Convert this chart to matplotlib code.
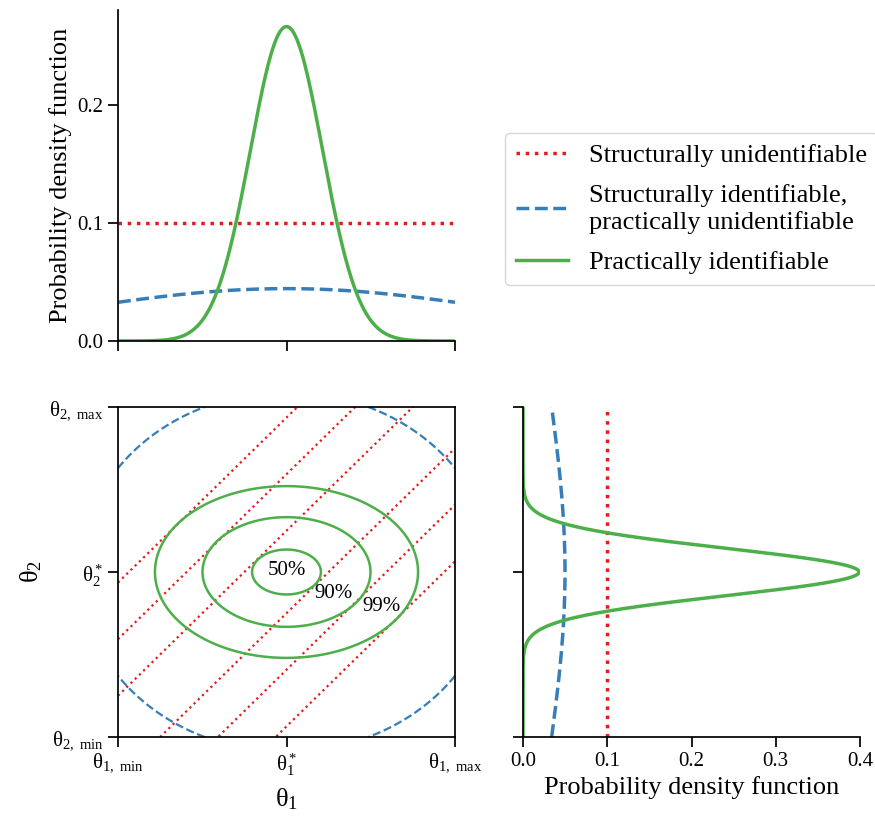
import numpy as np
import matplotlib
matplotlib.use("Agg")
import matplotlib.pyplot as plt

plt.rcParams["font.family"] = ["Liberation Serif", "DejaVu Serif"]
plt.rcParams["mathtext.fontset"] = "custom"
plt.rcParams["mathtext.rm"] = "Liberation Serif"
plt.rcParams["mathtext.it"] = "Liberation Serif"
plt.rcParams["mathtext.default"] = "regular"
plt.rcParams["axes.linewidth"] = 1.25
plt.rcParams["xtick.major.size"] = 7
plt.rcParams["ytick.major.size"] = 7
plt.rcParams["xtick.major.width"] = 1.25
plt.rcParams["ytick.major.width"] = 1.25
plt.rcParams["xtick.labelsize"] = 15
plt.rcParams["ytick.labelsize"] = 15

RED = "#e41a1c"
BLUE = "#377eb8"
GREEN = "#4daf4a"

# parameter space and the three cases
THETA_LIM = [-7.0, 7.0]
THETA_TICKS = [-7.0, 0.0, 7.0]
GREEN_SD = [1.5, 1.0]          # practically identifiable (theta1, theta2)
BLUE_SD = [9.0, 8.0]           # structurally identifiable, practically not
RED_DENSITY = 0.1              # structurally unidentifiable (flat)
RED_OFFSETS = [-6.55, -4.15, -1.75, 1.75, 4.15, 6.55]   # theta2 - theta1 = c
GREEN_LEVELS = [0.953, 2.326, 3.643]                     # Mahalanobis radii
GREEN_LABELS = ["50%", "90%", "99%"]
GREEN_LABEL_X = [0.0, 1.95, 3.95]
GREEN_LABEL_Y = [0.05, -0.92, -1.48]
BLUE_LEVELS = [0.953]

X1_TICKLABELS = [r"$\theta_{1,\ \mathrm{min}}$", r"$\theta_1^*$", r"$\theta_{1,\ \mathrm{max}}$"]
X2_TICKLABELS = [r"$\theta_{2,\ \mathrm{min}}$", r"$\theta_2^*$", r"$\theta_{2,\ \mathrm{max}}$"]
PDF_TICKS = [0.0, 0.1, 0.2, 0.3, 0.4]
TOP_YTICKS = [0.0, 0.1, 0.2]


def normal_pdf(x, sd):
    return np.exp(-0.5 * (x / sd) ** 2) / (sd * np.sqrt(2 * np.pi))


fig = plt.figure(figsize=(8.75, 8.26), dpi=100)
ax_top = fig.add_axes([118 / 875, 1 - 341 / 826, 337 / 875, 331 / 826])
ax_joint = fig.add_axes([118 / 875, 1 - 737 / 826, 337 / 875, 330 / 826])
ax_right = fig.add_axes([523 / 875, 1 - 737 / 826, 337 / 875, 330 / 826])

t = np.linspace(THETA_LIM[0], THETA_LIM[1], 600)

# top: marginal of theta1
l_red, = ax_top.plot(t, np.full_like(t, RED_DENSITY), color=RED, ls=":", lw=2.5,
                     label="Structurally unidentifiable")
l_blue, = ax_top.plot(t, normal_pdf(t, BLUE_SD[0]), color=BLUE, ls="--", lw=2.5,
                      label="Structurally identifiable,\npractically unidentifiable")
l_green, = ax_top.plot(t, normal_pdf(t, GREEN_SD[0]), color=GREEN, lw=2.5,
                       label="Practically identifiable")
ax_top.set_xlim(THETA_LIM)
ax_top.set_ylim(0, 0.28)
ax_top.set_xticks(THETA_TICKS)
ax_top.set_xticklabels([])
ax_top.set_yticks(TOP_YTICKS)
ax_top.set_ylabel("Probability density function", fontsize=19)
ax_top.spines[["top", "right"]].set_visible(False)

# joint
g1, g2 = np.meshgrid(np.linspace(THETA_LIM[0], THETA_LIM[1], 501),
                     np.linspace(THETA_LIM[0], THETA_LIM[1], 501))
r_green = np.sqrt((g1 / GREEN_SD[0]) ** 2 + (g2 / GREEN_SD[1]) ** 2)
r_blue = np.sqrt((g1 / BLUE_SD[0]) ** 2 + (g2 / BLUE_SD[1]) ** 2)
for c in RED_OFFSETS:
    ax_joint.plot(t, t + c, color=RED, ls=":", lw=1.6)
ax_joint.contour(g1, g2, r_blue, levels=BLUE_LEVELS, colors=BLUE,
                 linewidths=1.6, linestyles="--")
ax_joint.contour(g1, g2, r_green, levels=GREEN_LEVELS, colors=GREEN, linewidths=1.8)
for lab, x, y in zip(GREEN_LABELS, GREEN_LABEL_X, GREEN_LABEL_Y):
    ax_joint.text(x, y, lab, fontsize=15, ha="center", va="center")
ax_joint.set_xlim(THETA_LIM)
ax_joint.set_ylim(THETA_LIM)
ax_joint.set_xticks(THETA_TICKS)
ax_joint.set_xticklabels(X1_TICKLABELS)
ax_joint.set_yticks(THETA_TICKS)
ax_joint.set_yticklabels(X2_TICKLABELS)
ax_joint.set_xlabel(r"$\theta_1$", fontsize=19, labelpad=6)
ax_joint.set_ylabel(r"$\theta_2$", fontsize=19)

# right: marginal of theta2
ax_right.plot(np.full_like(t, RED_DENSITY), t, color=RED, ls=":", lw=2.5)
ax_right.plot(normal_pdf(t, BLUE_SD[1]), t, color=BLUE, ls="--", lw=2.5)
ax_right.plot(normal_pdf(t, GREEN_SD[1]), t, color=GREEN, lw=2.5)
ax_right.set_ylim(THETA_LIM)
ax_right.set_xlim(0, 0.4)
ax_right.set_xticks(PDF_TICKS)
ax_right.set_yticks(THETA_TICKS)
ax_right.set_yticklabels([])
ax_right.set_xlabel("Probability density function", fontsize=19)
ax_right.spines[["top", "right"]].set_visible(False)

fig.legend(handles=[l_red, l_blue, l_green], loc="upper left",
           bbox_to_anchor=(505 / 875, 1 - 133 / 826), borderaxespad=0, fontsize=19,
           labelspacing=0.65)

fig.savefig("out.png", dpi=100)
